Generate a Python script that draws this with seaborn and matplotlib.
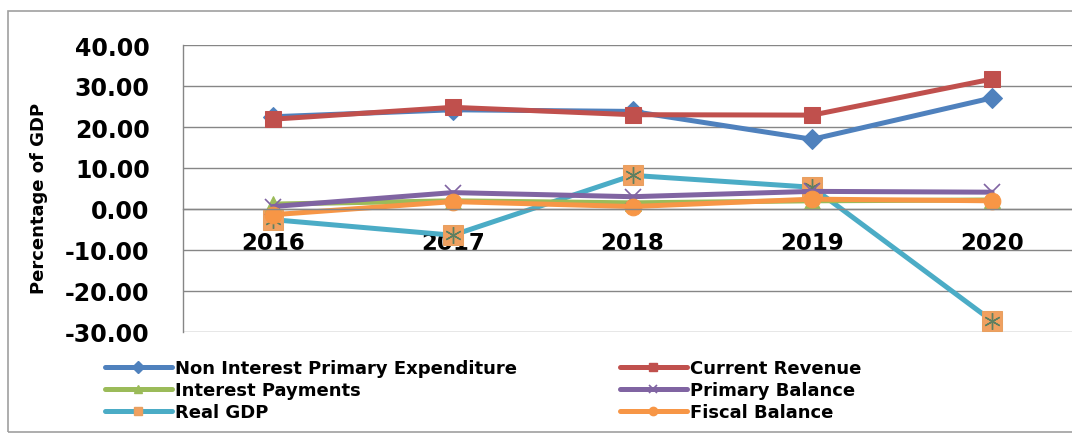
import matplotlib
matplotlib.use("Agg")
import matplotlib.pyplot as plt
import seaborn as sns
import pandas as pd
from matplotlib.patches import Rectangle
from matplotlib.lines import Line2D

years = ["2016", "2017", "2018", "2019", "2020"]
non_interest_primary_exp = [22.5, 24.2, 23.8, 17.0, 27.1]
current_revenue = [21.9, 24.8, 23.0, 22.9, 31.7]
interest_payments = [1.2, 2.0, 1.5, 2.0, 2.2]
primary_balance = [0.6, 4.0, 3.0, 4.3, 4.1]
real_gdp = [-2.6, -6.4, 8.2, 5.3, -27.3]
fiscal_balance = [-1.4, 1.8, 0.6, 2.4, 2.0]

series_names = ["Non Interest Primary Expenditure", "Current Revenue",
                "Interest Payments", "Primary Balance", "Real GDP", "Fiscal Balance"]
series_vals = [non_interest_primary_exp, current_revenue, interest_payments,
               primary_balance, real_gdp, fiscal_balance]
colors = ["#4F81BD", "#C0504D", "#9BBB59", "#8064A2", "#4BACC6", "#F79646"]

sns.set_style("white")
plt.rcParams['font.family'] = ['DejaVu Sans']
plt.rcParams['text.color'] = 'black'

fig = plt.figure(figsize=(10.72, 4.35), dpi=100)
ax = fig.add_axes([183/1072, 1-333/435, 899/1072, 287/435])

xpos = list(range(len(years)))
styles = {
    "Non Interest Primary Expenditure": dict(marker="D", ms=10, mec="#4F81BD", mfc="#4F81BD"),
    "Current Revenue": dict(marker="s", ms=12, mec="#C0504D", mfc="#C0504D"),
    "Interest Payments": dict(marker="^", ms=11, mec="#9BBB59", mfc="#9BBB59"),
    "Primary Balance": dict(marker="x", ms=12, mec="#8064A2", mew=1.2),
    "Real GDP": dict(marker="s", ms=15, mec="#E8A060", mfc="#F0A060"),
    "Fiscal Balance": dict(marker="o", ms=12, mec="#F79646", mfc="#F79646"),
}
draw_order = ["Real GDP", "Non Interest Primary Expenditure", "Current Revenue",
              "Interest Payments", "Primary Balance", "Fiscal Balance"]
for name in draw_order:
    i = series_names.index(name)
    df = pd.DataFrame({"x": xpos, "y": series_vals[i]})
    sns.lineplot(data=df, x="x", y="y", ax=ax, color=colors[i], lw=3.6,
                 legend=False, **styles[name])
    if name == "Real GDP":
        sns.lineplot(data=df, x="x", y="y", ax=ax, lw=0, color="#5F7F60",
                     marker=(6, 2, 0), ms=12, mew=1.0, mec="#5F7F60", legend=False)

ax.set_xlim(-0.5, 4.5)
ax.set_ylim(-30, 40)
ax.spines["bottom"].set_position(("data", 0))
ax.set_yticks(range(-30, 41, 10))
ax.set_yticklabels([f"{v:.2f}" for v in range(-30, 41, 10)], fontweight="bold")
ax.set_xticks(xpos)
ax.set_xticklabels(years, fontweight="bold")
ax.set_xticks([0.5, 1.5, 2.5, 3.5], minor=True)
ax.tick_params(axis="x", which="major", length=0, pad=16, labelsize=16.5, labelcolor="black")
ax.tick_params(axis="x", which="minor", length=5, color="#868686", direction="out")
ax.tick_params(axis="y", length=12, color="#868686", direction="out", pad=12,
               labelsize=17, labelcolor="black")
for s in ["top", "right"]:
    ax.spines[s].set_visible(False)
for s in ["bottom", "left"]:
    ax.spines[s].set_color("#868686")
    ax.spines[s].set_linewidth(1)
ax.grid(axis="y", color="#868686", lw=1)
ax.set_axisbelow(True)
ax.set_xlabel("")
ax.set_ylabel("Percentage of GDP", fontsize=13, fontweight="bold", color="black")
ax.yaxis.set_label_coords(-0.150, 0.47)

def handle(name):
    i = series_names.index(name)
    st = dict(styles[name])
    st["ms"] = 6
    return Line2D([], [], color=colors[i], lw=3.6, **st)

col1 = ["Non Interest Primary Expenditure", "Interest Payments", "Real GDP"]
col2 = ["Current Revenue", "Primary Balance", "Fiscal Balance"]
for names, xa in [(col1, 105/1072), (col2, 620/1072)]:
    leg = fig.legend([handle(n) for n in names], names, loc="upper left",
                     bbox_to_anchor=(xa, 1-360/435), frameon=False, ncol=1,
                     handlelength=3.7, handletextpad=0.2, labelspacing=0.22,
                     borderpad=0, borderaxespad=0,
                     prop=dict(size=13, weight="bold"))
    for t in leg.get_texts():
        t.set_color("black")

fig.patches.append(Rectangle((8/1072, 1-433/435), 1.1, 421/435, transform=fig.transFigure,
                             fill=False, edgecolor="#A0A0A0", lw=1.2))

fig.savefig("out.png", dpi=100)
